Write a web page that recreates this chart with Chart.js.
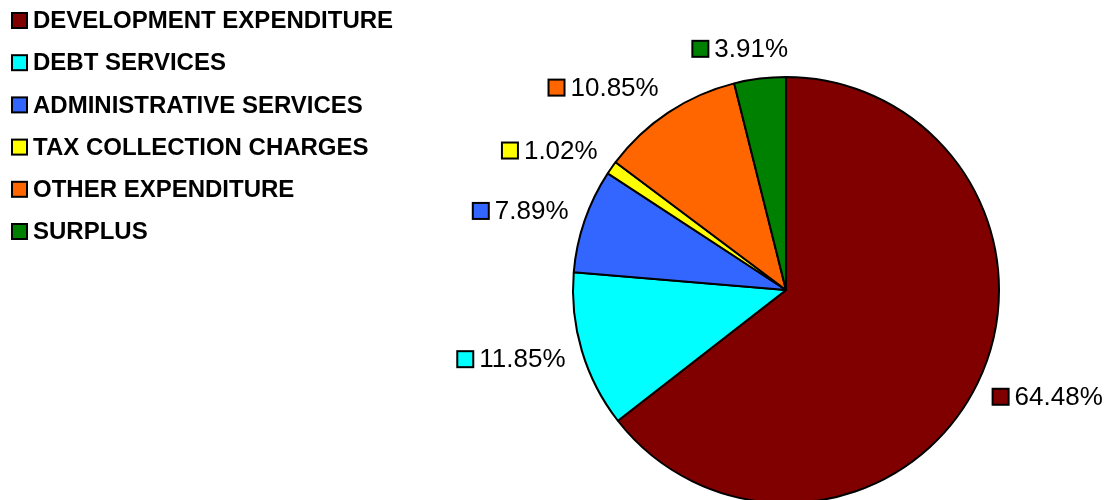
<!DOCTYPE html>
<html>
<head>
<meta charset="utf-8">
<script src="https://cdn.jsdelivr.net/npm/chart.js@4.4.1/dist/chart.umd.min.js"></script>
<style>
  html, body { margin: 0; padding: 0; background: #fff; overflow: hidden; }
  #wrap { width: 1107px; height: 520px; }
</style>
</head>
<body>
<div id="wrap"><canvas id="myChart" width="1107" height="520"></canvas></div>
<script>
var categories = ["DEVELOPMENT EXPENDITURE", "DEBT SERVICES", "ADMINISTRATIVE SERVICES",
  "TAX COLLECTION CHARGES", "OTHER EXPENDITURE", "SURPLUS"];
var shares = [64.48, 11.85, 7.89, 1.02, 10.85, 3.91];
var valueLabels = ["64.48%", "11.85%", "7.89%", "1.02%", "10.85%", "3.91%"];
var sliceColors = ["#800000", "#00FFFF", "#3366FF", "#FFFF00", "#FF6600", "#008000"];

// legend in the top left corner
var legendBox = {
  id: "legendBox",
  afterDraw: function (chart) {
    var c = chart.ctx;
    c.save();
    c.font = "bold 24px 'Liberation Sans', Arial, sans-serif";
    c.textBaseline = "middle";
    c.textAlign = "left";
    for (var i = 0; i < categories.length; i++) {
      var y = 20.5 + i * 42.2;
      c.fillStyle = sliceColors[i];
      c.fillRect(12, y - 7.5, 15, 15);
      c.strokeStyle = "#000";
      c.lineWidth = 2;
      c.strokeRect(12, y - 7.5, 15, 15);
      c.fillStyle = "#000";
      c.fillText(categories[i], 33, y + 1);
    }
    c.restore();
  }
};

// percentage labels outside each slice
var outsideLabels = {
  id: "outsideLabels",
  afterDatasetsDraw: function (chart) {
    var c = chart.ctx;
    var meta = chart.getDatasetMeta(0);
    c.save();
    c.font = "26px 'Liberation Sans', Arial, sans-serif";
    c.textBaseline = "middle";
    c.textAlign = "left";
    meta.data.forEach(function (arc, i) {
      var p = arc.getProps(["x", "y", "startAngle", "endAngle", "outerRadius"], true);
      var a = (p.startAngle + p.endAngle) / 2;
      var cos = Math.cos(a), sin = Math.sin(a);
      var R = p.outerRadius + 17;
      var tw = c.measureText(valueLabels[i]).width;
      var w = 16 + 6 + tw, h = 26;
      var kx = Math.max(-1, Math.min(1, cos * 3));
      var bx = p.x + R * cos + (w / 2) * kx;
      var by = p.y + R * sin + (h / 2) * sin;
      var left = bx - w / 2;
      c.fillStyle = sliceColors[i];
      c.fillRect(left, by - 8, 16, 16);
      c.strokeStyle = "#000";
      c.lineWidth = 2;
      c.strokeRect(left, by - 8, 16, 16);
      c.fillStyle = "#000";
      c.fillText(valueLabels[i], left + 22, by + 1);
    });
    c.restore();
  }
};

var ctx = document.getElementById("myChart");
var myChart = new Chart(ctx, {
  type: "pie",
  data: {
    labels: categories,
    datasets: [
      {
        data: shares,
        backgroundColor: sliceColors,
        borderColor: "#000000",
        borderWidth: 2
      }
    ]
  },
  options: {
    responsive: false,
    animation: false,
    layout: { padding: { left: 572, right: 107, top: 76, bottom: 16 } },
    plugins: {
      legend: { display: false },
      tooltip: { enabled: false }
    }
  },
  plugins: [legendBox, outsideLabels]
});
</script>
</body>
</html>
